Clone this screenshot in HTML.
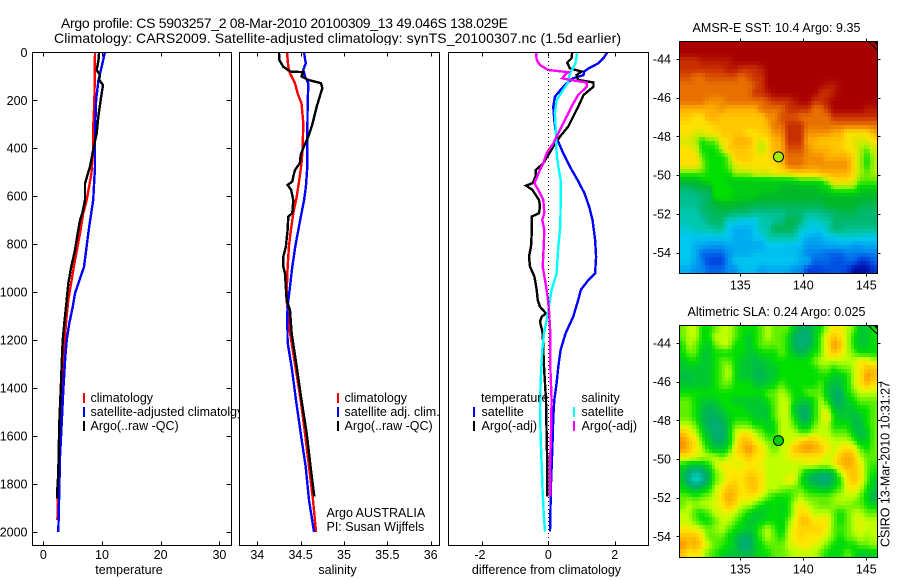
<!DOCTYPE html>
<html lang="en">
<head>
<meta charset="utf-8">
<title>Argo profile CS 5903257</title>
<style>
html,body{margin:0;padding:0;background:#fff;}
svg{display:block;}
text{font-family:"Liberation Sans",Arial,sans-serif;font-size:12.5px;fill:#000;}
.t{font-size:14px;}
.frame{fill:none;stroke:#000;stroke-width:1;shape-rendering:crispEdges;}
.bg{fill:#fff;stroke:none;}
.bar{stroke-width:2;shape-rendering:crispEdges;}
</style>
</head>
<body>
<svg id="fig" xmlns="http://www.w3.org/2000/svg" width="900" height="580" viewBox="0 0 900 580">
<rect width="900" height="580" fill="#fff"/>
<text class="t" x="61" y="28" textLength="447" lengthAdjust="spacing">Argo profile: CS 5903257_2 08-Mar-2010 20100309_13 49.046S 138.029E</text>
<text class="t" x="54" y="43" textLength="567" lengthAdjust="spacing">Climatology: CARS2009. Satellite-adjusted climatology: synTS_20100307.nc (1.5d earlier)</text>

<g id="p1">
<rect class="bg" x="32.5" y="52.5" width="199" height="493"/>
</g>
<g>
<line class="bar" x1="84" x2="84" y1="393" y2="403" stroke="#f00"/>
<line class="bar" x1="84" x2="84" y1="407" y2="417" stroke="#00f"/>
<line class="bar" x1="84" x2="84" y1="421" y2="431" stroke="#000"/>
<text x="90.5" y="402">climatology</text>
<text x="90.5" y="416">satellite-adjusted climatolgy</text>
<text x="90.5" y="430">Argo(..raw -QC)</text>
</g>

<rect class="bg" x="239" y="45" width="206" height="505"/>
<g id="p2"></g>
<g>
<line class="bar" x1="338" x2="338" y1="393" y2="403" stroke="#f00"/>
<line class="bar" x1="338" x2="338" y1="407" y2="417" stroke="#00f"/>
<line class="bar" x1="338" x2="338" y1="421" y2="431" stroke="#000"/>
<text x="344.5" y="402">climatology</text>
<text x="344.5" y="416">satellite adj. clim.</text>
<text x="344.5" y="430">Argo(..raw -QC)</text>
<text x="326.5" y="517">Argo AUSTRALIA</text>
<text x="326.5" y="531">PI: Susan Wijffels</text>
</g>

<g id="p3"></g>
<g>
<text x="481" y="402">temperature</text>
<text x="581.5" y="402">salinity</text>
<line class="bar" x1="474" x2="474" y1="407" y2="417" stroke="#00f"/>
<line class="bar" x1="474" x2="474" y1="421" y2="431" stroke="#000"/>
<line class="bar" x1="574" x2="574" y1="407" y2="417" stroke="#0ff"/>
<line class="bar" x1="574" x2="574" y1="421" y2="431" stroke="#f0f"/>
<text x="481.5" y="416">satellite</text>
<text x="481.5" y="430">Argo(-adj)</text>
<text x="581.5" y="416">satellite</text>
<text x="581.5" y="430">Argo(-adj)</text>
</g>

<text x="692.5" y="32" textLength="168" lengthAdjust="spacing">AMSR-E SST: 10.4  Argo: 9.35</text>
<g id="m1"></g>
<text x="687.5" y="316" textLength="178" lengthAdjust="spacing">Altimetric SLA: 0.24  Argo: 0.025</text>
<g id="m2"></g>
<text transform="translate(889.5,547) rotate(-90)" textLength="166" lengthAdjust="spacing">CSIRO 13-Mar-2010 10:31:27</text>
</svg>

<script>
/* ---------- profile data ---------- */
var tempClimDepth=[0,199,337,407,506,616,672,755,895,1033,1130,1270,1408,1600,1800,1950];
var tempClimValue=[8.8,8.7,8.47,8.5,8.2,7.4,6.8,6.25,5.2,4.26,3.87,3.4,3.0,2.75,2.55,2.4];
var tempSatDepth=[0,60,115,199,337,477,616,685,755,895,964,1005,1062,1130,1200,1270,1408,1547,1686,1825,2000];
var tempSatValue=[10.5,9.95,9.4,9.0,8.8,8.8,8.5,8.07,7.67,6.93,5.97,5.4,5.0,4.43,3.98,3.75,3.4,3.13,2.85,2.73,2.56];
var tempArgoDepth=[0,32,74,95,115,136,199,269,337,407,477,533,547,616,672,700,755,825,895,964,1033,1130,1200,1270,1408,1547,1686,1756,1825,1860];
var tempArgoValue=[9.5,9.4,9.1,9.66,9.5,10.17,9.78,9.37,9.1,8.5,7.96,7.27,7.1,7.1,6.64,6.25,5.86,5.4,4.75,4.26,3.98,3.58,3.3,3.19,2.96,2.73,2.6,2.56,2.39,2.39];

var salClimDepth=[0,60,88,129,171,213,296,407,463,532,602,671,741,810,922,1033,1170,1311,1450,1589,1728,1867,2000];
var salClimValue=[34.342,34.358,34.377,34.435,34.465,34.51,34.53,34.523,34.51,34.485,34.454,34.415,34.388,34.365,34.346,34.338,34.377,34.44,34.5,34.55,34.596,34.642,34.677];
var salSatDepth=[0,46,74,101,129,227,366,477,560,616,671,741,810,894,977,1060,1100,1210,1311,1450,1589,1728,1867,2000];
var salSatValue=[34.54,34.558,34.53,34.55,34.588,34.58,34.577,34.577,34.56,34.54,34.51,34.473,34.438,34.404,34.377,34.35,34.346,34.35,34.396,34.446,34.5,34.558,34.596,34.654];
var salArgoDepth=[0,32,60,80,83,101,115,129,150,185,227,310,352,393,428,463,491,518,539,553,574,616,671,685,741,810,852,894,922,1033,1075,1170,1311,1450,1589,1728,1853];
var salArgoValue=[34.25,34.254,34.3,34.377,34.53,34.51,34.588,34.735,34.75,34.72,34.685,34.627,34.588,34.538,34.5,34.49,34.435,34.415,34.404,34.35,34.39,34.415,34.404,34.358,34.35,34.33,34.3,34.3,34.32,34.338,34.377,34.396,34.454,34.51,34.57,34.615,34.658];

var diffTempSatDepth=[0,25,46,67,80,95,108,129,157,185,227,282,338,366,421,477,532,588,643,699,782,852,922,949,991,1033,1103,1172,1241,1311,1380,1450,1519,1659,1797,1999];
var diffTempSatValue=[1.78,1.66,1.51,1.21,1.08,1.06,.75,.55,.37,.2,.15,.18,.23,.28,.45,.65,.88,1.09,1.23,1.33,1.41,1.44,1.41,1.21,.98,.9,.75,.52,.37,.3,.25,.18,.15,.12,.08,.05];
var diffSalSatDepth=[0,46,88,129,157,199,254,338,421,477,532,643,727,810,922,991,1033,1103,1172,1241,1366,1477,1616,1728,1839,1922,1999];
var diffSalSatValue=[.87,.82,.65,.58,.45,.25,.2,.23,.25,.3,.37,.37,.36,.3,.25,.1,.05,-.03,-.13,-.18,-.23,-.25,-.23,-.2,-.17,-.14,-.1];
var diffSalArgoDepth=[0,32,53,74,83,95,108,115,126,143,178,213,268,324,380,421,463,490,546,574,616,671,699,741,810,894,949,1019,1075,1172,1311,1450,1589,1728,1853];
var diffSalArgoValue=[-.37,-.35,-.25,0,.6,.5,.42,.65,1.16,1.16,.9,.75,.55,.35,.15,-.05,-.15,-.25,-.42,-.3,-.15,-.12,-.18,-.12,-.14,-.17,-.1,-.02,.02,.06,.06,.1,.08,.05,.06];
var diffTempArgoDepth=[0,25,43,67,80,95,115,126,143,178,227,268,310,352,393,428,463,491,518,546,556,574,616,643,671,685,755,810,852,894,935,991,1033,1061,1089,1103,1123,1172,1311,1450,1589,1728,1853];
var diffTempArgoValue=[.72,.7,.57,.65,1.0,.85,.9,1.36,1.36,1.06,.9,.75,.6,.35,.15,0,-.15,-.38,-.38,-.48,-.67,-.48,-.28,-.25,-.28,-.5,-.5,-.52,-.58,-.55,-.42,-.35,-.32,-.25,-.07,-.2,-.25,-.17,-.13,-.07,-.05,-.03,-.03];

/* ---------- tick labels ---------- */
var depthTicks=[0,200,400,600,800,1000,1200,1400,1600,1800,2000];
var tempTicks=[0,10,20,30];
var salTicks=[34,34.5,35,35.5,36];
var diffTicks=[-2,0,2];
var lonTicks=[135,140,145];
var latTicks=[-44,-46,-48,-50,-52,-54];

/* ---------- gridded map levels (top row = north) ---------- */
var sstLevels=[
[13,13,13,13,13,13,13,13,13,13,13,13,13,13,13,13,13,13,13,13,13,13,13,13,13,13,13,13,13,13],
[13,13,13,13,13,13,13,13,13,13,13,13,13,13,13,13,13,13,13,13,13,13,13,13,13,13,13,13,13,13],
[12,12,12,12.5,12.5,12.5,12.5,12.5,13,13,13,13,13,13,13,13,13,13,13,13,13,13,13,13,13,13,13,13,13,13],
[12,12,12,12,12,12,12,12.5,12.5,12,12,12,12.5,13,13,13,13,13,13,13,13,13,13,13,13,13,13,13,13,13],
[11.5,11.5,11,11,11.5,11.5,11.5,11.5,11.5,11,11.5,12,12,13,13,13,13,13,13,13,13,13,13,13,13,13,13,13,13,13],
[11,11,11,11,11,11,11,11,11,11,11,11.5,12,13,13,13,13,13,13,13,13,13,12.5,12.5,13,13,13,13,13,13],
[11,11,11,11,11,11,11,11,11,11,11,12,12,12.5,13,13,13,13,13,13,13,12,12,12.5,13,13,13,13,13,13],
[11,11,11,11,10.5,10.5,10.5,11,11,11,11,11,11,11.5,12,12,12,12.5,13,13,12,12,12.5,13,13,13,13,13,13,13],
[10,10,10,10,10,10,10.5,10,10,10,10,10,11,11,11,11,12,12,12,12,11,11,12,13,13,13,13,13,12.5,12.5],
[9.5,9.5,9,9,10,10,9.5,9.5,9.5,9.5,9.5,9.5,9.5,10.5,10.5,11.5,11.5,11.5,11,11,11,11,11,12,12,12,12,12,12,12],
[9,9,9,9,9,9.5,9.5,9.5,9.5,9.5,9.5,9.5,9.5,10,11,11,12,12,12,11,11,11,11,11,11,11,11,11,11,11],
[9,9,8.5,8.5,9,9,9.5,9.5,9.5,9.5,9,9,9.5,9.5,10.5,10.5,12,12,12,10.5,10.5,10.5,10.5,10,10,9,9,9,9,10],
[8.5,8.5,8,7,7.5,7.5,9,9,10,10,10,9,8.5,9,10,10,12,12,12,10,10,9.5,9.5,9.5,9.5,9,8.5,8.5,8.5,9],
[9,9,8.5,7,7,7,8,9.5,9.5,9.5,9.5,9,8,9,10,10,11.5,11.5,11.5,10.5,10,10,10,9.5,9.5,9,9,8,7.5,8.5],
[9,9,9,7.5,7,7,7,7.5,9.5,9.5,9.5,9,9,9,9.5,10,11,11,11,10.5,10.5,10.5,10,10,10,10,9,8,7,8],
[9,9,9,8,7,7,7,7.5,8.5,9,9,9,9,9,9,9.5,11,11,11,10.5,10.5,10.5,10.5,10.5,10.5,10.5,9,8,7,8],
[7.5,7.5,7.5,7.5,7,7,7,7,8,8,8,8.5,8.5,8.5,9,9,9,9.5,9.5,9.5,9.5,10,10,10,10,10,9,8,7.5,8],
[6,6,6,6.5,7,7,7,6.5,6.5,6.5,6.5,6.5,6.5,6.5,6.5,6.5,6.5,6.5,7,7,7,7,8,9,9,9,8.5,7.5,7.5,7.5],
[5,5,5.5,5.5,5.5,7,7,7,6.5,6.5,6.5,6.5,6.5,6.5,6.5,6,6,6,6,6,6,6.5,6.5,7.5,7.5,7.5,7.5,6.5,6.5,6.5],
[4.5,4.5,4.5,5,5,7,7,7,6.5,6.5,6.5,6.5,6,6,6,6,6,6,6,6,6,6,6,6,6,6,6,6,6,6],
[4.5,4.5,4.5,5,5.5,5.5,6,6,6,6,5.5,5.5,5.5,5.5,5.5,5.5,5.5,5.5,5.5,5.5,5.5,5.5,6,6,6,6,6,5.5,5.5,5.5],
[4,4,4,5,5,5.5,5.5,5.5,5,5,5,4.5,4.5,4.5,4.5,4.5,5,5,5,4.5,4.5,4.5,5,5,5.5,5.5,5.5,5,5,5],
[4,4,4,4,5,5,5,3.5,3.5,3,3,3,4,4,4.5,4.5,5.5,5.5,5,3.5,3.5,4,4,5,5,5,5,5,5,5],
[3.5,3.5,4,4,4,4.5,4.5,3,2.5,2.5,2.5,3,4,4,5.5,5.5,5.5,5,3.5,3.5,3,3,4,5,5,4.5,4.5,4.5,4.5,4.5],
[3,3,3,3,3,3,3,3,2.5,2.5,2.5,3,3,4.2,4.2,4.2,4.2,4.2,3,2.5,2.5,2.5,3,3,3.5,3.5,3.5,3.5,3.2,3.2],
[3,3,2.5,2.5,2.2,2.2,2.2,2.5,2.5,2.5,2.5,2.5,2.5,3,3,3,3,2.8,2.8,2.2,2.2,2.2,2.5,2.5,2.5,2.5,2.2,2.2,2.5,2.5],
[3,3,2.5,1.5,1.5,1.5,1.5,2,2.5,2.5,2.5,2.8,2.8,2.8,2.8,2.8,2.8,2.8,2.5,1.8,1.8,1.8,1.5,1.5,1.5,1.8,1.8,1.8,1.8,1.8],
[3,3,2.3,1.8,1,1,1,2,3,3,3,3,3,3,3,3,3,3,2.5,2.5,1.5,1.5,1.5,1.2,1.2,1.5,1.5,.8,.8,1.5],
[2.5,2.5,2,2,1.5,1.5,1.5,2,2,2.8,2.8,2.8,2.2,2.5,2.5,2.5,2.5,2,2,1,1,1,1.2,1.2,1.2,1,.2,.2,.3,.8]
];
var slaLevels=[
[5,6,6,4,4,5,6,6,5,4,4,4,5,6,5,5,5,3,2,2,3,4,6,7,7,6,5,3,3,4],
[5,6,6,4,4,6,6,6,5,4,3,4,5,6,5,5,4,2,1.5,1.5,3,5,7,8,7,6,4,3,3,4],
[4,6,5,4,3,5,6,6,4,4,3,4,5,5,5,5,4,2,1.5,2,3,5,7,9,8,6,4,3,3,4],
[4,5,5,3,3,4,4,4,4,4,3,3,4,4,4,5,4,3,2,3,4,5,7,8,7,6,5,4,4,4],
[3,4,4,3,3,4,5,5,4,3,3,2.5,3,3,4,4,4,4,4,4,5,6,6,6,6,6,6,7,7,6],
[3,3,3,3,3,4,5,6,4,3,3,2.5,2.5,3,3,4,4,4,4,4,4,5,5,4,5,5,6,7,8,8],
[2.5,2.5,3,3,3,4,5,6,4,3,3,2.5,2,3,3,4,4,4,4,4,4,4,4,3,3,4,6,7,9,8],
[3,3,3,3,3,4,5,5,4,4,4,3,3,3,4,5,4,4,4,4,4,5,3,2.5,3,4,6,7,8,7],
[4,4,4,4,4,4,4,4,4,4,4,4,4,5,5,6,5,4,4,5,5,5,3,2,2,4,5,6,6,6],
[5,5,4,3,3,3,4,4,3,3,3,3,3,4,5,6,6,4,3,3,4,6,4,2,2,3,4,5,5,5],
[5,5,4,3,2,2.5,3,4,4,4,3,3,3,3,5,6,6,3,2,2,4,6,6,3,2.5,3,3,4,4,5],
[5,5,4,2.5,2,2,2.5,3,4,4,4,3,3,3,5,6,6,4,2,2,4,6,7,4,3,3,2.5,3,4,5],
[6,6,5,3,2,1.5,2,3,5,5,5,4,4,3,4,6,6,5,3,3,5,6,6,4,4,4,2.5,2.5,4,5],
[8,7,6,4,2.5,1.5,1.5,3,6,7,7,6,5,4,4,6,6,6,5,5,6,6,6,5,5,5,3,2.5,3,5],
[9,8,7,5,3,2,2,3,6,8,8,7,6,5,5,6,6,6.5,7.5,8,8,7,6.5,6,6,6,5,3,3.5,5],
[9,8,7,6,4,3,3,4,7,8,9,8,7,6,5,6,6.5,8,8.5,9,8.5,8,7,6,7,7.5,7,5,4,5],
[7,7,6.5,6,6,6,5,6,7,7,8,7,7,6,6,6,6.5,7,7,7,7,7,6,6.5,8,8.5,8,6,5,5],
[4,3,3,3,4,6,7,7,6.5,6.5,7,7,6.5,6,6,6,6,6,6,6.5,6.5,6,6,7,8,8.5,8,7,5,4.5],
[3,1.5,0.5,1,2.5,5,6,7,7,7,7.5,7.5,7,6,6,6,6,6.5,5,3,2.5,2,2,3,6,7.5,8,7,5,4],
[3,1,0,0.5,2.5,5,6,7,7.5,7,8,8,7,6,6,6,7,6.5,4,2.5,2,1.5,1.5,2.5,4.5,7,8,7,5,3],
[4,3,2.5,3,4,6,7,8,8,7,7.5,8,7,6,6,5.5,5,5,5,4,3.5,3,3,4,5,6.5,7,6,4,3],
[5,5,4.5,5,5.5,6,7.5,8.5,8,7,7,7,6,5,4,4,4,5,6,5,5,5,5,5.5,6,6,6,5,3.5,2],
[5,6,5.5,6,6,6.5,7,8,7.5,6,6,5,4,3.5,4,3.5,4,6,7,6,5.5,5,5,5.5,5.5,5.5,5,5,4,3.5],
[6,6,4.5,4,5,6,6.5,6.5,6,5,4,3,3,3.5,4,3.5,4,6,7.5,7,6,6,6,5,4,5,6,6,5,5],
[6,6,5,4,4,5,6,6,5,4,3,3,3.5,4,4,3.5,5,6.5,8,8,7,7,7,5,4,5,6,6.5,6,6],
[7,7,6.5,6,5,5.5,6,5,4,3.5,3,3.5,5,6,4.5,3.5,5.5,7,7.5,7.5,7.5,7.5,6.5,5,4.5,5,6,6.5,6,6],
[8,8,8,7,5,5,5,4,3,2,2,3,5,6,5,4,6,7,7.5,7,7,7,6,5,4,5,5.5,6,5.5,6],
[9,8,8.5,7.5,6,5,4.5,4,3,1.5,1.5,3,4,5,5,5,6,6.5,7,7,6.5,6,5,4,3.5,4,4,5,5,5.5],
[8,7,7,6.5,5,4.5,3.5,3,3,2.5,2.5,3,4,4,5,5,5.5,6,6,6,6,5,4,3.5,4,5,4,3,3,3.5]
];
var sstPalette=["#000090","#0040e0","#0090f0","#00c8f0","#00c8b0","#00b870","#00b828","#00e000","#b0f000","#ffe000","#ffb000","#e87000","#c83000","#a80000"];
var slaPalette=["#00d8c0","#00b090","#00b060","#00c830","#00e000","#60f000","#c0ff00","#ffe800","#ffc000","#f89000"];
var floatLon=138.03;
var floatLat=-49.05;

/* ---------- axis functions ---------- */
var NS="http://www.w3.org/2000/svg";
function yDepth(d){return 52.3+d*0.2398;}
function xTemp(v){return 43.3+v*5.87;}
function xSal(v){return 257.3+(v-34)*86.7;}
function xDiff(v){return 548.3+v*33.2;}
function xLon(l){return 740.3+(l-135)*12.6;}
function yLat1(l){return 59+(-44-l)*19.37;}
function yLat2(l){return 343+(-44-l)*19.33;}
function lonFromX(x){return 135+(x-740.3)/12.6;}
function latFromY1(y){return -44-(y-59)/19.37;}
function latFromY2(y){return -44-(y-343)/19.33;}

function el(parent,tag){var e=document.createElementNS(NS,tag);parent.appendChild(e);return e;}
function hexRgb(h){return [parseInt(h.substr(1,2),16),parseInt(h.substr(3,2),16),parseInt(h.substr(5,2),16)];}
function levelColor(p,v){
  var lo=Math.max(0,Math.min(p.length-1,Math.floor(v)));
  var hi=Math.min(p.length-1,lo+1);
  var f=Math.max(0,Math.min(1,v-lo));
  var a=hexRgb(p[lo]),b=hexRgb(p[hi]);
  return "rgb("+Math.round(a[0]+(b[0]-a[0])*f)+","+Math.round(a[1]+(b[1]-a[1])*f)+","+Math.round(a[2]+(b[2]-a[2])*f)+")";
}
/* bilinear read of the level grid, used to shade the map the way the source smooths its field */
function sampleGrid(grid,u,v){
  var rows=grid.length,cols=grid[0].length;
  u=Math.max(0,Math.min(cols-1,u));
  v=Math.max(0,Math.min(rows-1,v));
  var c0=Math.floor(u),r0=Math.floor(v);
  var c1=Math.min(cols-1,c0+1),r1=Math.min(rows-1,r0+1);
  var fu=u-c0,fv=v-r0;
  return (grid[r0][c0]*(1-fu)+grid[r0][c1]*fu)*(1-fv)+(grid[r1][c0]*(1-fu)+grid[r1][c1]*fu)*fv;
}
function tickLine(g,x1,y1,x2,y2){
  var t=el(g,"line");
  t.setAttribute("x1",x1);t.setAttribute("y1",y1);t.setAttribute("x2",x2);t.setAttribute("y2",y2);
  t.setAttribute("stroke","#000");
  t.setAttribute("shape-rendering","crispEdges");
  
  
}
function label(g,x,y,s,anchor){
  var t=el(g,"text");
  t.setAttribute("x",x);t.setAttribute("y",y);
  t.setAttribute("text-anchor",anchor);
  t.textContent=s;
  
  
}
function profile(g,depths,values,xf,color,name){
  var pts=[];
  for(var i=0;i<depths.length;i++){pts.push(xf(values[i]).toFixed(1)+","+yDepth(depths[i]).toFixed(1));}
  var p=el(g,"polyline");
  p.setAttribute("points",pts.join(" "));
  p.setAttribute("fill","none");
  p.setAttribute("stroke",color);
  p.setAttribute("stroke-width","2.4");
  p.setAttribute("shape-rendering","crispEdges");
  
  
}
function panel(id,left,right,xf,ticks,xlabel,xlabelX,lines){
  var g=document.getElementById(id);
  var top=52.5,bottom=545.5;
  lines.forEach(function(l){profile(g,l[0],l[1],xf,l[2],l[3]);});
  var fr=el(g,"rect");
  fr.setAttribute("class","frame");
  fr.setAttribute("x",left+.5);fr.setAttribute("y",top);
  fr.setAttribute("width",right-left);fr.setAttribute("height",bottom-top);
  
  
  ticks.forEach(function(v){
    var x=Math.round(xf(v))+.5;
    tickLine(g,x,top,x,top+4);
    tickLine(g,x,bottom,x,bottom-4);
    var lx=v<0?xf(v)-2:xf(v);
    label(g,lx,559,String(v),"middle");
  });
  var xl=el(g,"text");
  xl.setAttribute("x",xlabelX);xl.setAttribute("y",574);
  xl.setAttribute("text-anchor","middle");
  xl.textContent=xlabel;
  
  
  return g;
}

var g1=panel("p1",32,231,xTemp,tempTicks,"temperature",129,[
  [tempClimDepth,tempClimValue,"#f00","temperature-climatology-line"],
  [tempSatDepth,tempSatValue,"#00f","temperature-satellite-line"],
  [tempArgoDepth,tempArgoValue,"#000","temperature-argo-line"]]);
depthTicks.forEach(function(d){
  var y=Math.round(yDepth(d))+.5;
  tickLine(g1,32.5,y,37.5,y);
  tickLine(g1,231.5,y,226.5,y);
  label(g1,27.5,yDepth(d)+4.5,String(d),"end");
});
panel("p2",239,439,xSal,salTicks,"salinity",337.5,[
  [salClimDepth,salClimValue,"#f00","salinity-climatology-line"],
  [salSatDepth,salSatValue,"#00f","salinity-satellite-line"],
  [salArgoDepth,salArgoValue,"#000","salinity-argo-line"]]);
var g3=panel("p3",448,648,xDiff,diffTicks,"difference from climatology",546.5,[
  [diffTempSatDepth,diffTempSatValue,"#00f","difference-temperature-satellite-line"],
  [diffTempArgoDepth,diffTempArgoValue,"#000","difference-temperature-argo-line"],
  [diffSalSatDepth,diffSalSatValue,"#0ff","difference-salinity-satellite-line"],
  [diffSalArgoDepth,diffSalArgoValue,"#f0f","difference-salinity-argo-line"]]);
var zero=el(g3,"line");
zero.setAttribute("x1",xDiff(0));zero.setAttribute("x2",xDiff(0));
zero.setAttribute("y1",53);zero.setAttribute("y2",545);
zero.setAttribute("stroke","#000");
zero.setAttribute("stroke-dasharray","1 3");
zero.setAttribute("shape-rendering","crispEdges");



function map(id,grid,palette,left,right,top,bottom,yLat,latFromY,labelY,markerColor){
  var g=document.getElementById(id);
  var rows=grid.length,cols=grid[0].length;
  var sub=2;
  var lon0=lonFromX(left),lonW=(lonFromX(right)-lon0)/(cols*sub);
  var lat0=latFromY(top),latH=(latFromY(bottom)-lat0)/(rows*sub);
  for(var r=0;r<rows*sub;r++){
    for(var c=0;c<cols*sub;c++){
      var x0=Math.round(xLon(lon0+c*lonW)),x1=Math.round(xLon(lon0+(c+1)*lonW));
      var y0=Math.round(yLat(lat0+r*latH)),y1=Math.round(yLat(lat0+(r+1)*latH));
      var cell=el(g,"rect");
      cell.setAttribute("x",x0);cell.setAttribute("y",y0);
      cell.setAttribute("width",x1-x0);cell.setAttribute("height",y1-y0);
      cell.setAttribute("fill",levelColor(palette,sampleGrid(grid,(c+.5)/sub-.5,(r+.5)/sub-.5)));
      cell.setAttribute("shape-rendering","crispEdges");
      
      
    }
  }
  var fr=el(g,"rect");
  fr.setAttribute("class","frame");
  fr.setAttribute("x",left+.5);fr.setAttribute("y",top+.5);
  fr.setAttribute("width",right-left);fr.setAttribute("height",bottom-top);
  
  
  lonTicks.forEach(function(l){
    var x=Math.round(xLon(l))+.5;
    tickLine(g,x,top+.5,x,top-2.5);
    tickLine(g,x,bottom+.5,x,bottom+3.5);
    label(g,xLon(l),labelY,String(l),"middle");
  });
  latTicks.forEach(function(l){
    var y=Math.round(yLat(l))+.5;
    tickLine(g,left+.5,y,left-2.5,y);
    tickLine(g,right+.5,y,right+3.5,y);
    label(g,671,yLat(l)+4.5,String(l),"end");
  });
  var coast=el(g,"polyline");
  coast.setAttribute("points",(right-8)+","+(top+1)+" "+right+","+(top+9));
  coast.setAttribute("fill","none");
  coast.setAttribute("stroke","#000");
  coast.setAttribute("shape-rendering","crispEdges");
  
  
  var land=el(g,"polygon");
  land.setAttribute("points",(right-4)+","+top+" "+right+","+top+" "+right+","+(top+4));
  land.setAttribute("fill","#000");
  
  
  var m=el(g,"circle");
  m.setAttribute("cx",xLon(floatLon));m.setAttribute("cy",yLat(floatLat));
  m.setAttribute("r",5);
  m.setAttribute("fill",markerColor);
  m.setAttribute("stroke","#000");
  
  
}
map("m1",sstLevels,sstPalette,679,877,41,273,yLat1,latFromY1,289.5,"#a0f000");
map("m2",slaLevels,slaPalette,679,877,325,557,yLat2,latFromY2,573.5,"#00d000");
</script>
</body>
</html>
